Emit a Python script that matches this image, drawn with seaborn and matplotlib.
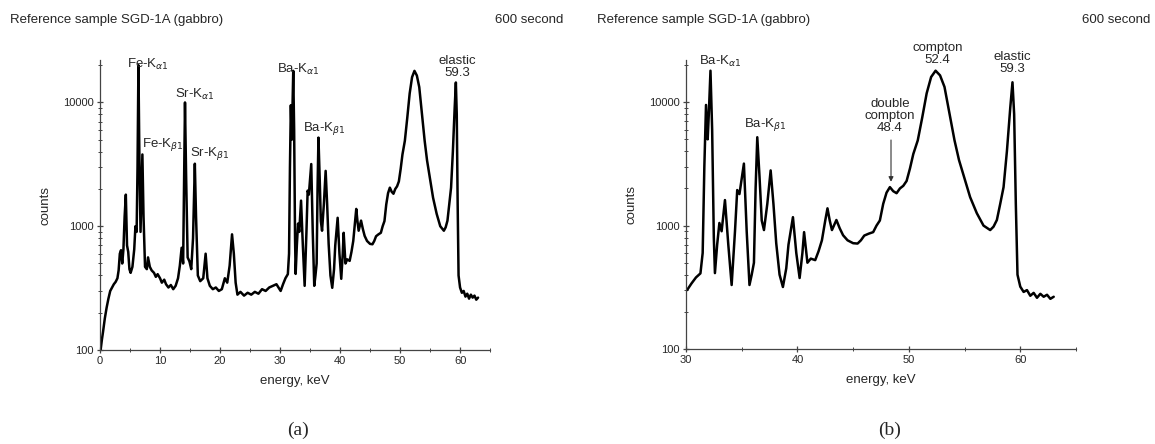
import numpy as np
import pandas as pd
import matplotlib
matplotlib.use("Agg")
import matplotlib.pyplot as plt
import matplotlib.ticker as mticker
import seaborn as sns

# spectrum of SGD-1A (energy keV, counts)
energy_kev = [0.1, 0.3, 0.5, 0.8, 1.1, 1.4, 1.7, 2.0, 2.3, 2.6, 2.9, 3.1, 3.3, 3.5, 3.7, 3.9,
              4.1, 4.3, 4.5, 4.7, 4.9, 5.1, 5.4, 5.7, 5.9, 6.1, 6.25, 6.4, 6.55, 6.75, 7.06,
              7.25, 7.5, 7.8, 8.0, 8.3, 8.6, 9.0, 9.3, 9.6, 10.0, 10.3, 10.7, 11.0, 11.4,
              11.8, 12.2, 12.6, 13.0, 13.3, 13.6, 13.85, 14.0, 14.16, 14.35, 14.6, 14.9,
              15.2, 15.5, 15.8, 16.0, 16.3, 16.7, 17.2, 17.6, 17.9, 18.3, 18.8, 19.3, 19.8,
              20.3, 20.8, 21.2, 21.6, 22.0, 22.3, 22.6, 22.9, 23.4, 24.0, 24.6, 25.2, 25.8,
              26.4, 27.0, 27.6, 28.2, 28.8, 29.4, 30.1, 30.5, 30.9, 31.3, 31.5, 31.65,
              31.8, 31.95, 32.05, 32.2, 32.35, 32.5, 32.6, 32.8, 33.0, 33.2, 33.5, 33.8,
              34.1, 34.4, 34.6, 34.8, 35.2, 35.45, 35.7, 35.9, 36.1, 36.25, 36.4, 36.6,
              36.8, 37.0, 37.3, 37.6, 37.85, 38.1, 38.4, 38.7, 39.0, 39.2, 39.6, 39.9,
              40.2, 40.45, 40.6, 40.9, 41.2, 41.6, 41.9, 42.2, 42.5, 42.7, 42.9, 43.1,
              43.5, 43.8, 44.1, 44.5, 45.0, 45.4, 45.7, 46.0, 46.4, 46.8, 47.1, 47.4,
              47.7, 48.0, 48.3, 48.6, 48.9, 49.2, 49.5, 49.8, 50.1, 50.4, 50.8, 51.2,
              51.6, 52.0, 52.4, 52.8, 53.2, 53.6, 54.1, 54.5, 55.0, 55.5, 56.1, 56.7,
              57.3, 57.6, 57.9, 58.2, 58.5, 58.8, 59.1, 59.3, 59.45, 59.6, 59.75, 60.0,
              60.3, 60.6, 60.9, 61.2, 61.5, 61.8, 62.1, 62.4, 62.7, 63.0]
counts = [100, 120, 140, 180, 220, 260, 300, 320, 340, 355, 380, 440, 600, 640, 500, 650,
          1200, 1800, 700, 620, 450, 420, 470, 650, 1000, 900, 3000, 20000, 4000, 900, 3800,
          1200, 470, 450, 560, 470, 440, 420, 390, 410, 380, 350, 370, 340, 320,
          335, 310, 330, 380, 480, 670, 500, 2000, 10000, 2500, 560, 520,
          450, 800, 3200, 1200, 400, 360, 380, 600, 380, 330, 310, 320, 300,
          310, 380, 350, 480, 860, 600, 350, 280, 295, 275, 290, 280, 295,
          285, 310, 300, 320, 330, 340, 300, 340, 380, 410, 600, 3000,
          9500, 5000, 8000, 18000, 6000, 800, 412, 700, 1050, 900, 1610, 700,
          330, 900, 1940, 1800, 3180, 900, 330, 400, 500, 2000, 5200, 2500,
          1100, 920, 1500, 2800, 1500, 720, 400, 318, 450, 700, 1170, 600,
          376, 600, 885, 500, 540, 525, 620, 760, 1100, 1380, 1100, 920,
          1110, 950, 835, 760, 720, 715, 760, 830, 860, 885, 1000, 1100,
          1500, 1850, 2050, 1900, 1830, 2000, 2100, 2300, 2900, 3800, 4900, 7500,
          11800, 16000, 18000, 16500, 13300, 8500, 4900, 3400, 2400, 1700, 1260, 1000,
          920, 980, 1110, 1500, 2050, 4000, 9000, 14500, 8000, 1500, 400, 320,
          290, 300, 270, 285, 260, 280, 265, 275, 255, 265]

df = pd.DataFrame({"energy": energy_kev, "counts": counts})

# peak labels: (text, energy, counts, horizontal alignment)
labels_a = [(r"Fe-K$_{\alpha1}$", 4.5, 17500, "left"),
            (r"Fe-K$_{\beta1}$", 7.0, 3900, "left"),
            (r"Sr-K$_{\alpha1}$", 12.5, 10000, "left"),
            (r"Sr-K$_{\beta1}$", 15.0, 3300, "left"),
            (r"Ba-K$_{\alpha1}$", 29.5, 16000, "left"),
            (r"Ba-K$_{\beta1}$", 33.8, 5300, "left"),
            ("elastic\n59.3", 59.5, 15500, "center")]
labels_b = [(r"Ba-K$_{\alpha1}$", 31.2, 18500, "left"),
            (r"Ba-K$_{\beta1}$", 35.2, 5600, "left"),
            ("double\ncompton\n48.4", 48.3, 5500, "center"),
            ("compton\n52.4", 52.55, 19500, "center"),
            ("elastic\n59.3", 59.3, 16500, "center")]

sns.set_theme(style="ticks")
plt.rcParams["font.family"] = ["Liberation Sans", "DejaVu Sans"]
plt.rcParams["mathtext.fontset"] = "dejavusans"

fig = plt.figure(figsize=(11.55, 4.44), dpi=100)
ax1 = fig.add_axes([0.0866, 0.2117, 0.3377, 0.653])
ax2 = fig.add_axes([0.5939, 0.2140, 0.3377, 0.651])


def style_axis(ax, xmin, xmax):
    sns.lineplot(data=df, x="energy", y="counts", ax=ax, color="black", lw=1.8,
                 sort=False, estimator=None)
    ax.set_yscale("log")
    ax.set_xlim(xmin, xmax)
    ax.set_ylim(100, 22000)
    ax.xaxis.set_major_locator(mticker.MultipleLocator(10))
    ax.xaxis.set_minor_locator(mticker.MultipleLocator(5))
    ax.yaxis.set_major_locator(mticker.LogLocator(base=10, numticks=5))
    ax.yaxis.set_major_formatter(mticker.FuncFormatter(lambda v, p: "%d" % v))
    ax.yaxis.set_minor_locator(mticker.LogLocator(base=10, subs=np.arange(2, 10), numticks=20))
    ax.yaxis.set_minor_formatter(mticker.NullFormatter())
    sns.despine(ax=ax)
    for s in ["left", "bottom"]:
        ax.spines[s].set_color("#444444")
        ax.spines[s].set_linewidth(0.9)
    ax.tick_params(which="major", direction="inout", length=5, width=0.9,
                   color="#444444", labelsize=8, pad=2)
    ax.tick_params(which="minor", direction="inout", length=3, width=0.7, color="#444444")
    ax.set_xlabel("energy, keV", fontsize=9.5, labelpad=6)
    ax.set_ylabel("counts", fontsize=9.5, labelpad=8)


style_axis(ax1, 0, 65)
style_axis(ax2, 30, 65)

for txt, e, c, ha in labels_a:
    ax1.text(e, c, txt, ha=ha, va="bottom", fontsize=9.5, clip_on=False, linespacing=1.0)
for txt, e, c, ha in labels_b:
    ax2.text(e, c, txt, ha=ha, va="bottom", fontsize=9.5, clip_on=False, linespacing=1.0)

ax2.annotate("", xy=(48.4, 2150), xytext=(48.4, 5200),
             arrowprops=dict(arrowstyle="-|>", lw=0.8, color="#333333", mutation_scale=7))

fig.text(10 / 1155, 1 - 20 / 444, "Reference sample SGD-1A (gabbro)", fontsize=9.5, va="center")
fig.text(495 / 1155, 1 - 20 / 444, "600 second", fontsize=9.5, va="center")
fig.text(597 / 1155, 1 - 20 / 444, "Reference sample SGD-1A (gabbro)", fontsize=9.5, va="center")
fig.text(1082 / 1155, 1 - 20 / 444, "600 second", fontsize=9.5, va="center")

fig.text(298 / 1155, 1 - 430 / 444, "(a)", ha="center", va="center", fontsize=14,
         family="Liberation Serif")
fig.text(890 / 1155, 1 - 430 / 444, "(b)", ha="center", va="center", fontsize=14,
         family="Liberation Serif")

fig.savefig("out.png", dpi=100)
